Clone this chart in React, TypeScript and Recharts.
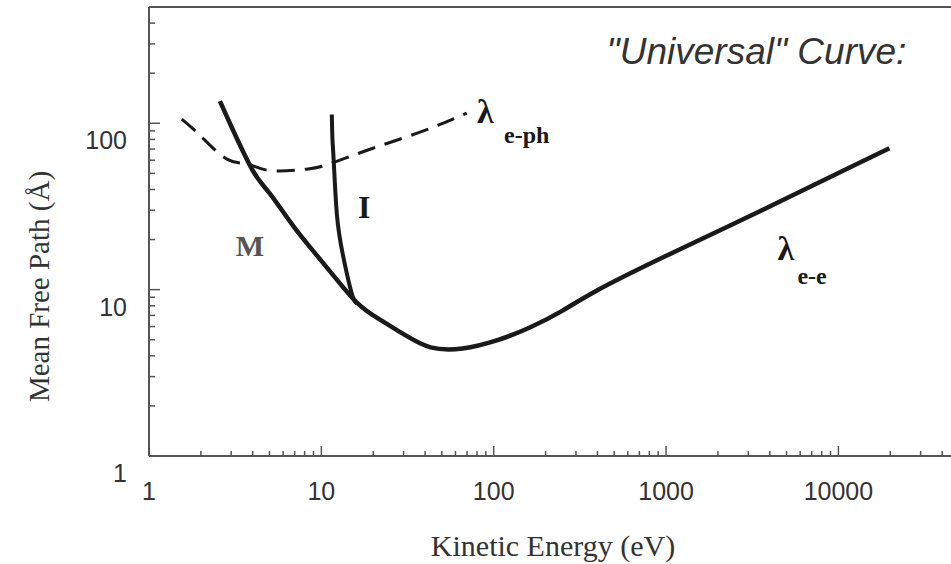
import { LineChart, Line, XAxis, YAxis, ReferenceLine, ReferenceDot } from "recharts";

// Kinetic energy (eV) / mean free path (Å)
const eeEnergy = [2.58, 3, 4, 5, 7, 10, 15, 20, 30, 43, 66, 104, 162, 251, 395, 955, 2335, 5000, 10000, 19760];
const eePath = [136, 96, 52, 38, 23.5, 14.9, 9.0, 7.0, 5.4, 4.5, 4.43, 4.95, 5.92, 7.48, 9.86, 15.6, 24.2, 35.4, 50.2, 70.8];

const insEnergy = [11.5, 11.6, 11.8, 12.3, 13.3, 15.0, 16.1];
const insPath = [113, 80, 59, 28.5, 16.4, 9.5, 8.25];

const ephEnergy = [1.55, 2.0, 2.83, 3.75, 5.0, 8.2, 11.5, 19.9, 38.7, 69.7];
const ephPath = [106, 83.6, 60.9, 56.8, 52, 53, 57.6, 70.8, 89.6, 115];

const xMajor = [1, 10, 100, 1000, 10000];
const yMajor = [1, 10, 100];
const minorSteps = [2, 3, 4, 5, 6, 7, 8, 9];
const xTicks = xMajor.flatMap((d) => [d, ...minorSteps.map((m) => m * d)]).filter((v) => v < 45000);
const yTicks = yMajor.flatMap((d) => [d, ...minorSteps.map((m) => m * d)]).filter((v) => v < 500);

const toPoints = (xs: number[], ys: number[]) => xs.map((x, i) => ({ x, y: ys[i] }));

const AXIS = "#555";
const INK = "#1a1a1a";
const TEXT = "#333";
const SANS = "'Liberation Sans', Arial, Helvetica, sans-serif";
const SERIF = "'Liberation Serif', 'Times New Roman', serif";

const XTick = ({ x, y, payload }: any) => {
  const major = xMajor.includes(payload.value);
  return (
    <g>
      <line x1={x} x2={x} y1={y} y2={y - (major ? 10 : 5)} stroke={AXIS} strokeWidth={1.5} />
      {major && (
        <text x={x} y={y + 44} textAnchor="middle" fontFamily={SANS} fontSize={25} fill={TEXT}>
          {payload.value}
        </text>
      )}
    </g>
  );
};

const YTick = ({ x, y, payload }: any) => {
  const major = yMajor.includes(payload.value);
  return (
    <g>
      <line x1={x} x2={x + (major ? 11 : 6)} y1={y} y2={y} stroke={AXIS} strokeWidth={1.5} />
      {major && (
        <text x={x - 22} y={y + 26} textAnchor="end" fontFamily={SANS} fontSize={25} fill={TEXT}>
          {payload.value}
        </text>
      )}
    </g>
  );
};

const XTitle = ({ viewBox }: any) => (
  <text x={viewBox.x + viewBox.width / 2 + 3} y={viewBox.y + 100} textAnchor="middle" fontFamily={SERIF} fontSize={30} fill={TEXT}>
    Kinetic Energy (eV)
  </text>
);

const YTitle = ({ viewBox }: any) => {
  const cx = 49;
  const cy = viewBox.y + viewBox.height / 2 + 55;
  return (
    <text x={cx} y={cy} transform={`rotate(-90 ${cx} ${cy})`} textAnchor="middle" fontFamily={SERIF} fontSize={29} fill={TEXT}>
      Mean Free Path (Å)
    </text>
  );
};

const lambdaLabel = (sub: string, subDx: number, subDy: number) => (p: any) => (
  <g>
    <text x={p.cx} y={p.cy} fontFamily={SERIF} fontWeight="bold" fontSize={34} fill={INK}>
      λ
    </text>
    <text x={p.cx + subDx} y={p.cy + subDy} fontFamily={SERIF} fontWeight="bold" fontSize={24} fill={INK}>
      {sub}
    </text>
  </g>
);

const plainLabel = (txt: string, size: number, color: string, family: string, weight = "bold", style = "normal") => (p: any) => (
  <text x={p.cx} y={p.cy} fontFamily={family} fontWeight={weight} fontStyle={style} fontSize={size} fill={color}>
    {txt}
  </text>
);

export default function App() {
  return (
    <div>
      <style>{"body{margin:0}"}</style>
      <LineChart width={951} height={564} margin={{ top: 7, right: 0, left: 0, bottom: 0 }}>
        <XAxis
          dataKey="x"
          type="number"
          scale="log"
          domain={[1, 45000]}
          allowDataOverflow
          ticks={xTicks}
          interval={0}
          tickSize={0}
          tickMargin={0}
          tick={<XTick />}
          height={108}
          axisLine={{ stroke: AXIS, strokeWidth: 2 }}
          label={<XTitle />}
        />
        <YAxis
          dataKey="y"
          type="number"
          scale="log"
          domain={[1, 500]}
          allowDataOverflow
          ticks={yTicks}
          interval={0}
          tickSize={0}
          tickMargin={0}
          tick={<YTick />}
          width={149}
          axisLine={{ stroke: AXIS, strokeWidth: 2 }}
          label={<YTitle />}
        />
        <ReferenceLine y={500} stroke={AXIS} strokeWidth={2} />
        <Line
          data={toPoints(ephEnergy, ephPath)}
          dataKey="y"
          type="natural"
          stroke={INK}
          strokeWidth={3}
          strokeDasharray="18 10"
          dot={false}
          isAnimationActive={false}
        />
        <Line
          data={toPoints(eeEnergy, eePath)}
          dataKey="y"
          type="natural"
          stroke={INK}
          strokeWidth={4.5}
          dot={false}
          isAnimationActive={false}
        />
        <Line
          data={toPoints(insEnergy, insPath)}
          dataKey="y"
          type="natural"
          stroke={INK}
          strokeWidth={4}
          dot={false}
          isAnimationActive={false}
        />
        <ReferenceDot x={80} y={100} r={0} shape={lambdaLabel("e-ph", 27, 20)} />
        <ReferenceDot x={4430} y={15.1} r={0} shape={lambdaLabel("e-e", 20, 24)} />
        <ReferenceDot x={3.19} y={16} r={0} shape={plainLabel("M", 30, "#555", SERIF)} />
        <ReferenceDot x={16.3} y={27} r={0} shape={plainLabel("I", 32, INK, SERIF)} />
        <ReferenceDot x={452} y={226} r={0} shape={plainLabel("\"Universal\" Curve:", 37, TEXT, SANS, "normal", "italic")} />
      </LineChart>
    </div>
  );
}
